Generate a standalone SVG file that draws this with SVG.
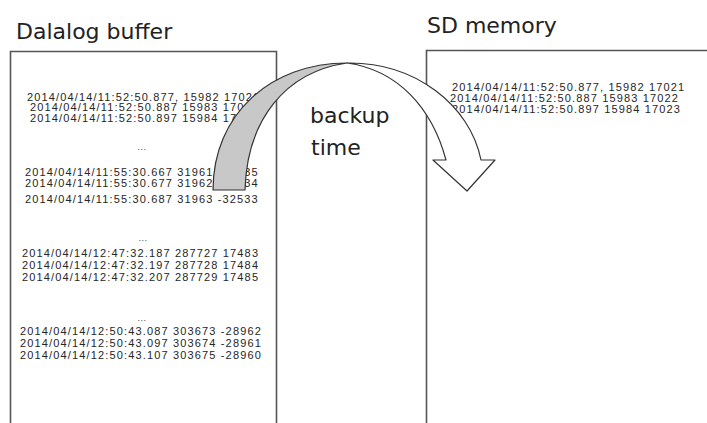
<svg xmlns="http://www.w3.org/2000/svg" width="707" height="423" viewBox="0 0 707 423">
<style>
.title{font-family:"DejaVu Sans",sans-serif;font-size:22px;fill:#222}
.data{font-family:"Liberation Sans",Arial,sans-serif;font-size:11px;letter-spacing:1.15px;fill:#262626}
.dots{font-family:"Liberation Sans",Arial,sans-serif;font-size:9px;letter-spacing:0.5px;fill:#444;text-anchor:middle}
.box{fill:none;stroke:#555;stroke-width:1.6}
.arrow{stroke:#333;stroke-width:1.2;stroke-linejoin:round}
</style>
<rect width="707" height="423" fill="#fff"/>
<g id="dalalog-buffer">
<path class="box" d="M10.5,430 V51.5 H276.5 V430"/>
<text class="title" x="16" y="39">Dalalog buffer</text>
<text class="data" x="27" y="100.5">2014/04/14/11:52:50.877, 15982 17021</text>
<text class="data" x="30" y="111">2014/04/14/11:52:50.887 15983 17022</text>
<text class="data" x="30" y="122">2014/04/14/11:52:50.897 15984 17023</text>
<text class="dots" x="142" y="150">...</text>
<text class="data" x="25" y="176">2014/04/14/11:55:30.667 31961 -32535</text>
<text class="data" x="25" y="187">2014/04/14/11:55:30.677 31962 -32534</text>
<text class="data" x="25" y="203">2014/04/14/11:55:30.687 31963 -32533</text>
<text class="dots" x="143" y="241">...</text>
<text class="data" x="22" y="257">2014/04/14/12:47:32.187 287727 17483</text>
<text class="data" x="22" y="269">2014/04/14/12:47:32.197 287728 17484</text>
<text class="data" x="22" y="281">2014/04/14/12:47:32.207 287729 17485</text>
<text class="dots" x="142" y="321">...</text>
<text class="data" x="20" y="335">2014/04/14/12:50:43.087 303673 -28962</text>
<text class="data" x="20" y="347">2014/04/14/12:50:43.097 303674 -28961</text>
<text class="data" x="20" y="359">2014/04/14/12:50:43.107 303675 -28960</text>
</g>
<g id="sd-memory">
<path class="box" d="M426.5,430 V50.5 H710"/>
<text class="title" x="427" y="33">SD memory</text>
<text class="data" x="452" y="91">2014/04/14/11:52:50.877, 15982 17021</text>
<text class="data" x="450" y="102">2014/04/14/11:52:50.887 15983 17022</text>
<text class="data" x="452" y="113">2014/04/14/11:52:50.897 15984 17023</text>
</g>
<g id="connectors">
<path class="arrow" fill="#c8c8c8" d="M213,190 C213,115 270,63 347,63 C285,72 247,120 245,190 Z"/>
<path class="arrow" fill="#fff" d="M347,63 C415,62 470,105 481,160 L495,160 L467,191 L433,160 L446,160 C432,108 398,70 347,63 Z"/>
</g>
<g id="backup-time-label">
<text class="title" x="310" y="123">backup</text>
<text class="title" x="311" y="155">time</text>
</g>
</svg>
